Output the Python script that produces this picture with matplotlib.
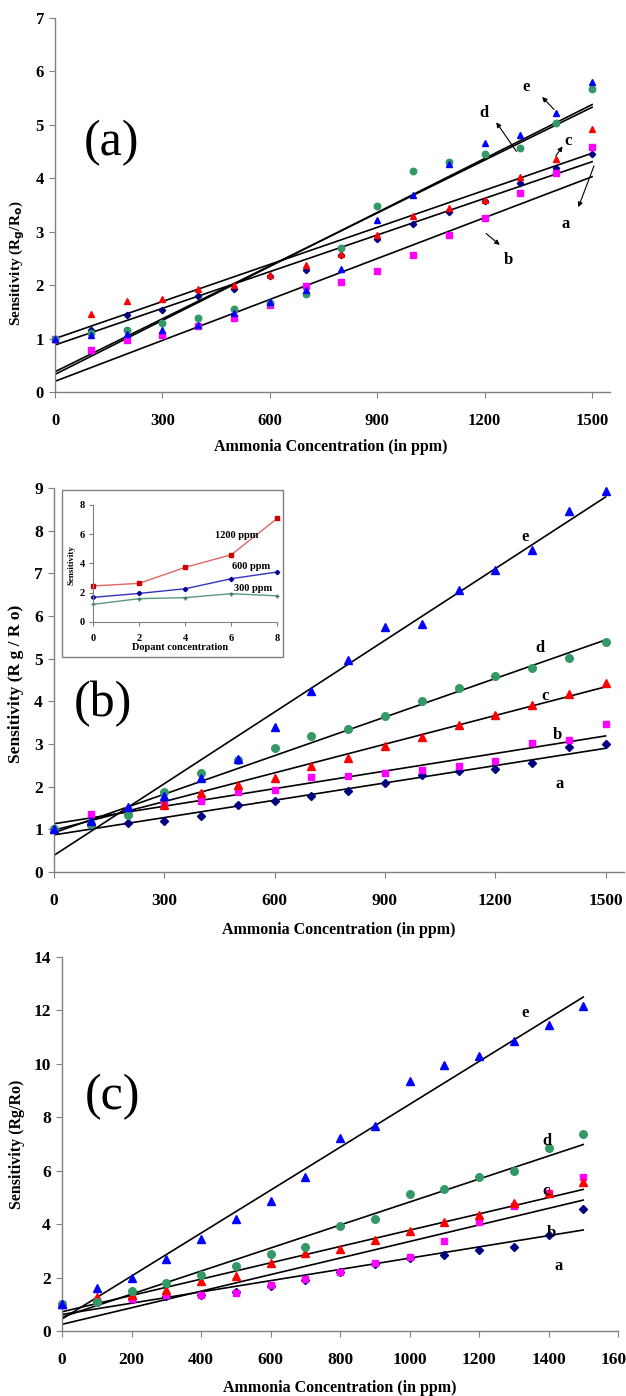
import numpy as np
import matplotlib
matplotlib.use("Agg")
import matplotlib.pyplot as plt
from matplotlib.patches import Rectangle

plt.rcParams["font.family"] = ["Liberation Serif", "DejaVu Serif"]
plt.rcParams["font.weight"] = "bold"
plt.rcParams["axes.labelweight"] = "bold"

# ammonia concentration (ppm), shared by all three panels
conc = [0, 100, 200, 300, 400, 500, 600, 700, 800, 900, 1000, 1100, 1200, 1300, 1400, 1500]

# panel (a)
a_a = [1.0, 1.16, 1.44, 1.54, 1.80, 1.92, 2.17, 2.29, 2.57, 2.86, 3.14, 3.36, 3.57, 3.92, 4.19, 4.45]
a_b = [1.0, 0.78, 0.98, 1.06, 1.23, 1.38, 1.63, 1.98, 2.06, 2.27, 2.56, 2.93, 3.25, 3.72, 4.09, 4.58]
a_c = [1.0, 1.46, 1.71, 1.74, 1.93, 2.00, 2.19, 2.38, 2.59, 2.94, 3.29, 3.44, 3.59, 4.03, 4.36, 4.92]
a_d = [1.0, 1.10, 1.16, 1.29, 1.39, 1.56, 1.66, 1.83, 2.69, 3.48, 4.14, 4.30, 4.46, 4.56, 5.04, 5.67]
a_e = [1.0, 1.06, 1.09, 1.16, 1.25, 1.47, 1.69, 1.91, 2.31, 3.21, 3.69, 4.26, 4.66, 4.81, 5.23, 5.80]
a_fit_int = [0.88, 0.20, 1.00, 0.38, 0.33]
a_fit_slope = [0.002287, 0.002553, 0.002313, 0.003300, 0.003367]

# panel (b)
b_a = [1.0, 1.10, 1.15, 1.19, 1.31, 1.56, 1.66, 1.78, 1.89, 2.09, 2.27, 2.36, 2.41, 2.56, 2.93, 3.01]
b_b = [1.0, 1.37, 1.45, 1.56, 1.66, 1.88, 1.92, 2.23, 2.25, 2.32, 2.40, 2.48, 2.60, 3.03, 3.09, 3.46]
b_c = [1.0, 1.18, 1.43, 1.56, 1.84, 2.03, 2.21, 2.48, 2.68, 2.95, 3.17, 3.44, 3.67, 3.91, 4.17, 4.44]
b_d = [1.0, 1.13, 1.33, 1.88, 2.31, 2.62, 2.90, 3.18, 3.36, 3.65, 4.01, 4.32, 4.60, 4.79, 5.02, 5.38]
b_e = [1.0, 1.19, 1.53, 1.78, 2.21, 2.64, 3.40, 4.25, 4.97, 5.74, 5.81, 6.61, 7.08, 7.55, 8.47, 8.92]
b_fit_int = [0.87, 1.13, 0.98, 0.92, 0.39]
b_fit_slope = [0.001353, 0.001373, 0.002240, 0.003013, 0.005600]

# inset of (b): sensitivity vs dopant concentration
dopant = [0, 2, 4, 6, 8]
ins_1200 = [2.45, 2.63, 3.73, 4.59, 7.09]
ins_600 = [1.67, 1.94, 2.26, 2.95, 3.41]
ins_300 = [1.19, 1.58, 1.65, 1.92, 1.77]

# panel (c)
c_a = [1.0, 1.10, 1.20, 1.30, 1.35, 1.45, 1.70, 1.90, 2.20, 2.50, 2.75, 2.84, 3.03, 3.15, 3.59, 4.55]
c_b = [1.0, 1.10, 1.21, 1.34, 1.34, 1.43, 1.71, 1.93, 2.21, 2.53, 2.78, 3.38, 4.09, 4.68, 5.15, 5.75]
c_c = [1.0, 1.27, 1.34, 1.55, 1.86, 2.06, 2.53, 2.93, 3.06, 3.40, 3.74, 4.08, 4.36, 4.78, 5.15, 5.59]
c_d = [1.0, 1.09, 1.50, 1.78, 2.09, 2.43, 2.88, 3.13, 3.93, 4.21, 5.13, 5.31, 5.75, 6.00, 6.86, 7.36]
c_e = [1.0, 1.62, 1.99, 2.71, 3.43, 4.21, 4.86, 5.75, 7.21, 7.69, 9.36, 9.96, 10.30, 10.86, 11.46, 12.18]
c_fit_int = [0.62, 0.25, 0.72, 0.52, 0.45]
c_fit_slope = [0.002107, 0.003100, 0.003053, 0.004307, 0.008033]

series_names = ["a", "b", "c", "d", "e"]

STYLES = [
    dict(marker="D", color="#000080", ms=3.6),
    dict(marker="s", color="#ff00ff", ms=4.6),
    dict(marker="^", color="#ff0000", ms=5.2),
    dict(marker="o", color="#339966", ms=5.2),
    dict(marker="^", color="#0000ff", ms=5.2),
]
AX_GRAY = "#808080"
W, H = 626, 1396


def px_rect(left, right, top, bottom):
    return [left / W, 1 - bottom / H, (right - left) / W, (bottom - top) / H]


def style_axes(ax, xlim, ylim, xticks, yticks, fs=12):
    ax.set_xlim(*xlim)
    ax.set_ylim(*ylim)
    ax.set_xticks(xticks)
    ax.set_yticks(yticks)
    for s in ("top", "right"):
        ax.spines[s].set_visible(False)
    for s in ("left", "bottom"):
        ax.spines[s].set_color(AX_GRAY)
        ax.spines[s].set_linewidth(1.0)
    ax.tick_params(axis="both", direction="out", length=4, color=AX_GRAY, labelsize=fs)
    ax.tick_params(axis="x", pad=11)
    ax.tick_params(axis="y", pad=4)
    ax.patch.set_alpha(0)


def draw_panel(ax, series, fit_int, fit_slope, ms_scale=1.0):
    xfit = np.array([0, 1500])
    for b0, m in zip(fit_int, fit_slope):
        ax.plot(xfit, b0 + m * xfit, color="black", lw=1.2, zorder=2)
    for ys, st in zip(series, STYLES):
        ax.plot(conc, ys, ls="none", marker=st["marker"], color=st["color"],
                ms=st["ms"] * ms_scale, mec=st["color"], zorder=3, clip_on=False)


fig = plt.figure(figsize=(W / 100, H / 100), dpi=100)

# ---------- (a) ----------
ax1 = fig.add_axes(px_rect(55, 610, 18, 392))
style_axes(ax1, (0, 1550), (0, 7), range(0, 1501, 300), range(0, 8))
draw_panel(ax1, [a_a, a_b, a_c, a_d, a_e], a_fit_int, a_fit_slope, 0.9)
ax1.set_ylabel("Sensitivity (R$_\\mathbf{g}$/R$_\\mathbf{o}$)", fontsize=11)
ax1.yaxis.set_label_coords(-0.05, 0.345)
ax1.set_xlabel("Ammonia Concentration (in ppm)", fontsize=11.5)
ax1.xaxis.set_label_coords(0.497, -0.126)
ax1.text(159, 4.66, "(a)", fontsize=36, fontweight="normal", ha="center", va="center")
a_lbl = [(1427, 3.14), (1267, 2.47), (1433, 4.69), (1198, 5.23), (1316, 5.71)]
a_arrows = [((1508, 4.28), (1459, 3.41)), ((1198, 3.0), (1248, 2.72)),
            ((1394, 4.375), (1422, 4.64)), ((1293, 4.46), (1228, 5.09)),
            ((1399, 5.25), (1355, 5.56))]
for name, (lx, ly), (tail, head) in zip(series_names, a_lbl, a_arrows):
    ax1.text(lx, ly, name, fontsize=12, ha="center", va="center")
    ax1.annotate("", xy=head, xytext=tail,
                 arrowprops=dict(arrowstyle="-|>", color="black", lw=0.8, mutation_scale=7))

# ---------- (b) ----------
ax2 = fig.add_axes(px_rect(54, 624, 488, 872))
style_axes(ax2, (0, 1550), (0, 9), range(0, 1501, 300), range(0, 10), fs=12.5)
draw_panel(ax2, [b_a, b_b, b_c, b_d, b_e], b_fit_int, b_fit_slope, 1.05)
ax2.set_ylabel("Sensitivity (R g / R o)", fontsize=12.5)
ax2.yaxis.set_label_coords(-0.053, 0.49)
ax2.set_xlabel("Ammonia Concentration (in ppm)", fontsize=11.5)
ax2.xaxis.set_label_coords(0.50, -0.13)
ax2.text(133, 3.95, "(b)", fontsize=36, fontweight="normal", ha="center", va="center")
b_lbl = [(1375, 2.07), (1368, 3.21), (1335, 4.12), (1321, 5.24), (1281, 7.86)]
for name, (lx, ly) in zip(series_names, b_lbl):
    ax2.text(lx, ly, name, fontsize=12, ha="center", va="center")

# inset frame and inset axes
frame = Rectangle((62 / W, 1 - 657 / H), (283 - 62) / W, (657 - 490) / H,
                  transform=fig.transFigure, facecolor="white", edgecolor=AX_GRAY,
                  lw=1.0, zorder=5)
fig.patches.append(frame)
ins = fig.add_axes(px_rect(93.3, 277.4, 505, 621.7))
ins.set_zorder(6)
ins.set_xlim(0, 8)
ins.set_ylim(0, 8)
ins.set_xticks(range(0, 9, 2))
ins.set_yticks(range(0, 9, 2))
for s in ("top", "right"):
    ins.spines[s].set_visible(False)
for s in ("left", "bottom"):
    ins.spines[s].set_color(AX_GRAY)
ins.tick_params(direction="out", length=3, color=AX_GRAY, labelsize=7.5, pad=3)
ins.tick_params(axis="x", pad=6)
ins.patch.set_alpha(0)
ins.plot(dopant, ins_1200, color="#dd6666", lw=1.0, marker="s", ms=2.5, mfc="#cc0000", mec="#cc0000", clip_on=False)
ins.plot(dopant, ins_600, color="#3333bb", lw=1.0, marker="D", ms=2.2, mfc="#000099", mec="#000099", clip_on=False)
ins.plot(dopant, ins_300, color="#5a9a7a", lw=1.0, marker="+", ms=3, mec="#3c7a5a", clip_on=False)
ins.text(6.25, 5.9, "1200 ppm", fontsize=7.5, ha="center", va="center")
ins.text(6.85, 3.8, "600 ppm", fontsize=7.5, ha="center", va="center")
ins.text(6.95, 2.3, "300 ppm", fontsize=7.5, ha="center", va="center")
ins.set_ylabel("Sensitivity", fontsize=6.5)
ins.yaxis.set_label_coords(-0.094, 0.486)
ins.set_xlabel("Dopant concentration", fontsize=7.5)
ins.xaxis.set_label_coords(0.47, -0.18)

# ---------- (c) ----------
ax3 = fig.add_axes(px_rect(62, 618, 957, 1331))
style_axes(ax3, (0, 1600), (0, 14), range(0, 1601, 200), range(0, 15, 2), fs=12.5)
draw_panel(ax3, [c_a, c_b, c_c, c_d, c_e], c_fit_int, c_fit_slope, 1.05)
ax3.set_ylabel("Sensitivity (Rg/Ro)", fontsize=11.5)
ax3.yaxis.set_label_coords(-0.067, 0.5)
ax3.set_xlabel("Ammonia Concentration (in ppm)", fontsize=11.5)
ax3.xaxis.set_label_coords(0.5, -0.132)
ax3.text(144, 8.77, "(c)", fontsize=36, fontweight="normal", ha="center", va="center")
c_lbl = [(1428, 2.43), (1407, 3.68), (1393, 5.25), (1396, 7.1), (1332, 11.9)]
for name, (lx, ly) in zip(series_names, c_lbl):
    ax3.text(lx, ly, name, fontsize=12, ha="center", va="center")

fig.savefig("out.png", dpi=100)
